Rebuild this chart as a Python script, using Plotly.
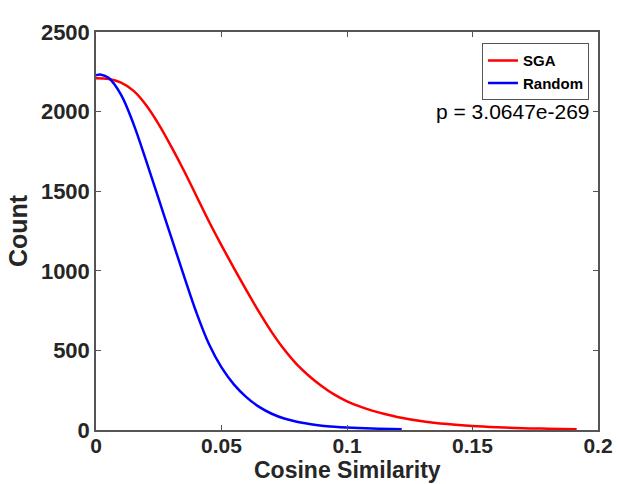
import plotly.graph_objects as go

# SGA (red) curve
sga_x = [0, 0.005, 0.01, 0.015, 0.02, 0.025, 0.03, 0.035, 0.04, 0.045, 0.05, 0.055,
         0.06, 0.065, 0.07, 0.075, 0.08, 0.085, 0.09, 0.095, 0.1, 0.105, 0.11, 0.115,
         0.12, 0.13, 0.14, 0.15, 0.16, 0.17, 0.18, 0.1915]
sga_y = [2210, 2205, 2182, 2130, 2040, 1920, 1780, 1630, 1470, 1310, 1160, 1015,
         875, 740, 615, 505, 412, 338, 275, 222, 180, 148, 122, 100,
         82, 55, 37, 25, 17, 11, 8, 5]

# Random (blue) curve
rnd_x = [0, 0.002, 0.005, 0.01, 0.015, 0.02, 0.025, 0.03, 0.035, 0.04, 0.045, 0.05,
         0.055, 0.06, 0.065, 0.07, 0.075, 0.08, 0.085, 0.09, 0.095, 0.1, 0.11, 0.1218]
rnd_y = [2228, 2232, 2212, 2105, 1920, 1690, 1450, 1210, 970, 738, 540, 393,
         285, 205, 145, 102, 72, 52, 38, 27, 20, 15, 9, 5]

x_ticks = [0, 0.05, 0.1, 0.15, 0.2]
x_tick_text = ["0", "0.05", "0.1", "0.15", "0.2"]
y_ticks = [0, 500, 1000, 1500, 2000, 2500]

x_title = "Cosine Similarity"
y_title = "Count"
p_text = "p = 3.0647e-269"

txt = "#262626"
axc = "#555555"

fig = go.Figure()
fig.add_trace(go.Scatter(x=sga_x, y=sga_y, mode="lines", name="SGA",
                         line=dict(color="#ff0000", width=2.5, shape="spline", smoothing=1)))
fig.add_trace(go.Scatter(x=rnd_x, y=rnd_y, mode="lines", name="Random",
                         line=dict(color="#0000ff", width=2.5, shape="spline", smoothing=1)))

fig.update_layout(
    width=619, height=484,
    margin=dict(l=96, r=21, t=32, b=54),
    paper_bgcolor="white", plot_bgcolor="white",
    font=dict(family="Liberation Sans, Arial, sans-serif", color=txt),
    showlegend=True,
    legend=dict(x=0.982, y=0.972, xanchor="right", yanchor="top",
                bgcolor="white", bordercolor=axc, borderwidth=1,
                font=dict(size=15, color="black", family="Liberation Sans, Arial, sans-serif", weight="bold"),
                tracegroupgap=0, itemwidth=30),
    annotations=[
        dict(text=p_text, x=0.2, y=2000, xref="x", yref="y",
             xanchor="right", yanchor="middle", xshift=-6, showarrow=False,
             font=dict(size=21, color="black")),
        dict(text=x_title, x=0.5, y=0, xref="paper", yref="paper",
             xanchor="center", yanchor="middle", yshift=-40, showarrow=False,
             font=dict(size=23, weight="bold", color=txt)),
    ],
)

fig.update_xaxes(
    range=[0, 0.2], tickvals=x_ticks, ticktext=x_tick_text,
    showgrid=False, zeroline=False, automargin=False,
    showline=True, linecolor=axc, linewidth=1.5, mirror="ticks",
    ticks="inside", ticklen=5, tickcolor=axc, ticklabelstandoff=-4,
    tickfont=dict(size=21, weight="bold", color=txt),
)
fig.update_yaxes(
    range=[0, 2500], tickvals=y_ticks,
    showgrid=False, zeroline=False, automargin=False,
    showline=True, linecolor=axc, linewidth=1.5, mirror="ticks",
    ticks="inside", ticklen=5, tickcolor=axc,
    tickfont=dict(size=22, weight="bold", color=txt),
    title=dict(text=y_title, font=dict(size=25, weight="bold", color=txt), standoff=6),
)

fig.write_html("out.html")
